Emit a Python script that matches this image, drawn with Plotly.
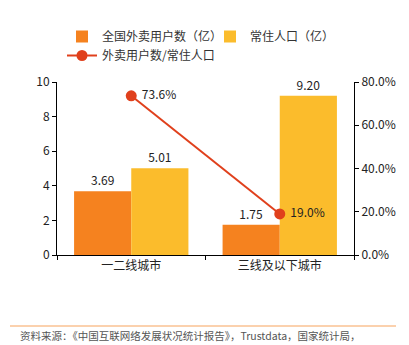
import plotly.graph_objects as go

categories = ["一二线城市", "三线及以下城市"]
users = [3.69, 1.75]
population = [5.01, 9.20]
ratio = [0.736, 0.190]

ORANGE = "#F5821F"
YELLOW = "#FBBC2C"
RED = "#E0401C"
FONT = "Noto Sans CJK SC, Noto Sans, sans-serif"

fig = go.Figure()
fig.add_trace(go.Bar(
    x=categories, y=users, name="全国外卖用户数（亿）",
    marker=dict(color=ORANGE, line=dict(width=0)),
    text=[f"{v:.2f}" for v in users], textposition="outside",
    textfont=dict(size=12, color="#222"), cliponaxis=False,
))
fig.add_trace(go.Bar(
    x=categories, y=population, name="常住人口（亿）",
    marker=dict(color=YELLOW, line=dict(width=0)),
    text=[f"{v:.2f}" for v in population], textposition="outside",
    textfont=dict(size=12, color="#222"), cliponaxis=False,
))
fig.add_trace(go.Scatter(
    x=categories, y=ratio, name="外卖用户数/常住人口", yaxis="y2",
    mode="lines+markers+text",
    line=dict(color=RED, width=2),
    marker=dict(color=RED, size=11),
    text=[f" {v*100:.1f}%" for v in ratio], textposition="middle right",
    textfont=dict(size=12, color="#222"), cliponaxis=False,
))

fig.update_layout(
    width=409, height=345,
    margin=dict(l=57, r=55, t=82, b=90),
    paper_bgcolor="white", plot_bgcolor="white",
    font=dict(family=FONT, size=12, color="#333"),
    barmode="group", bargap=0.23, bargroupgap=0,
    showlegend=True,
    legend=dict(
        orientation="h", x=(62 - 57) / 297, y=(255 - 22) / 173,
        xanchor="left", yanchor="top",
        entrywidth=103, entrywidthmode="pixels",
        font=dict(size=12, color="#333"), bgcolor="rgba(0,0,0,0)",
        traceorder="normal", tracegroupgap=0, itemwidth=30,
    ),
    xaxis=dict(
        showline=True, linecolor="#000", linewidth=1,
        ticks="outside", tickson="boundaries", ticklen=4, tickcolor="#000",
        tickfont=dict(size=12, color="#222"), showgrid=False,
    ),
    yaxis=dict(
        range=[0, 10], dtick=2, showline=True, linecolor="#000", linewidth=1,
        ticks="outside", ticklen=4, tickcolor="#000", showgrid=False,
        zeroline=False, tickfont=dict(size=12, color="#222"),
    ),
    yaxis2=dict(
        range=[0, 0.8], dtick=0.2, tickformat=".1%", overlaying="y", side="right",
        showline=True, linecolor="#000", linewidth=1,
        ticks="outside", ticklen=4, tickcolor="#000", showgrid=False,
        zeroline=False, tickfont=dict(size=12, color="#222"),
    ),
)

fig.add_shape(type="line", xref="paper", yref="paper",
              x0=(10 - 57) / 297, x1=(396 - 57) / 297,
              y0=(255 - 326) / 173, y1=(255 - 326) / 173,
              line=dict(color="#F7A35C", width=1))
fig.add_annotation(xref="paper", yref="paper",
                   x=(18 - 57) / 297, y=(255 - 335) / 173,
                   xanchor="left", yanchor="middle", showarrow=False,
                   text="资料来源：《中国互联网络发展状况统计报告》，Trustdata，国家统计局，",
                   font=dict(size=10.5, color="#555"))

fig.write_html("out.html")
